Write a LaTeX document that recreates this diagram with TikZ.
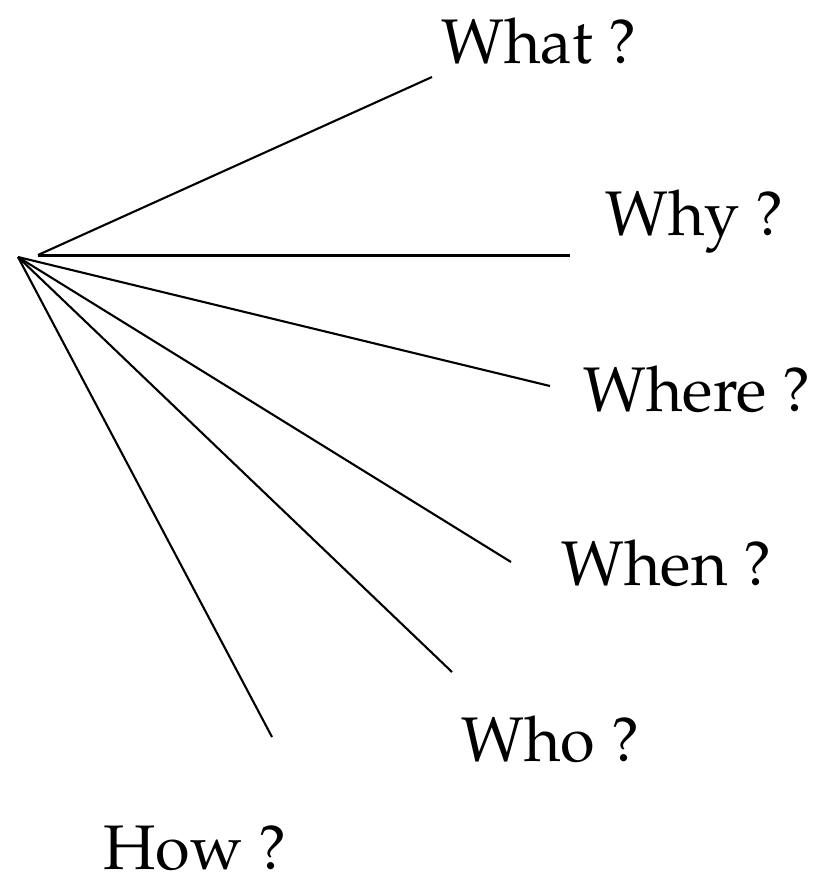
\documentclass[tikz,border=0pt]{standalone}
\usepackage[T1]{fontenc}
\usepackage{mathpazo}
\usepackage{tikz}

\begin{document}
\begin{tikzpicture}[x=1pt,y=-1pt,
  word/.style={anchor=base west,inner sep=0pt,font=\fontsize{63}{75}\selectfont},
  spoke/.style={line width=2.1pt}]
\useasboundingbox (0,0) rectangle (819,876);
\coordinate (hub) at (18,257);
\coordinate (hubtop) at (38,255);
\coordinate (whatend) at (432,77);
\coordinate (whyend) at (570,255);
\coordinate (whereend) at (550,386);
\coordinate (whenend) at (511,562);
\coordinate (whoend) at (452,672);
\coordinate (howend) at (272,737);
\node[word] (what) at (441,63) {What ?};
\node[word] (why) at (605,235) {Why ?};
\node[word] (where) at (583,411) {Where ?};
\node[word] (when) at (561,585) {When ?};
\node[word] (who) at (461,761) {Who ?};
\node[word] (how) at (103,869) {How ?};
\draw[spoke] (hubtop) -- (whatend);
\draw[line width=3pt] (hubtop) -- (whyend);
\draw[spoke] (hub) -- (whereend);
\draw[spoke] (hub) -- (whenend);
\draw[spoke] (hub) -- (whoend);
\draw[spoke] (hub) -- (howend);
\end{tikzpicture}
\end{document}
